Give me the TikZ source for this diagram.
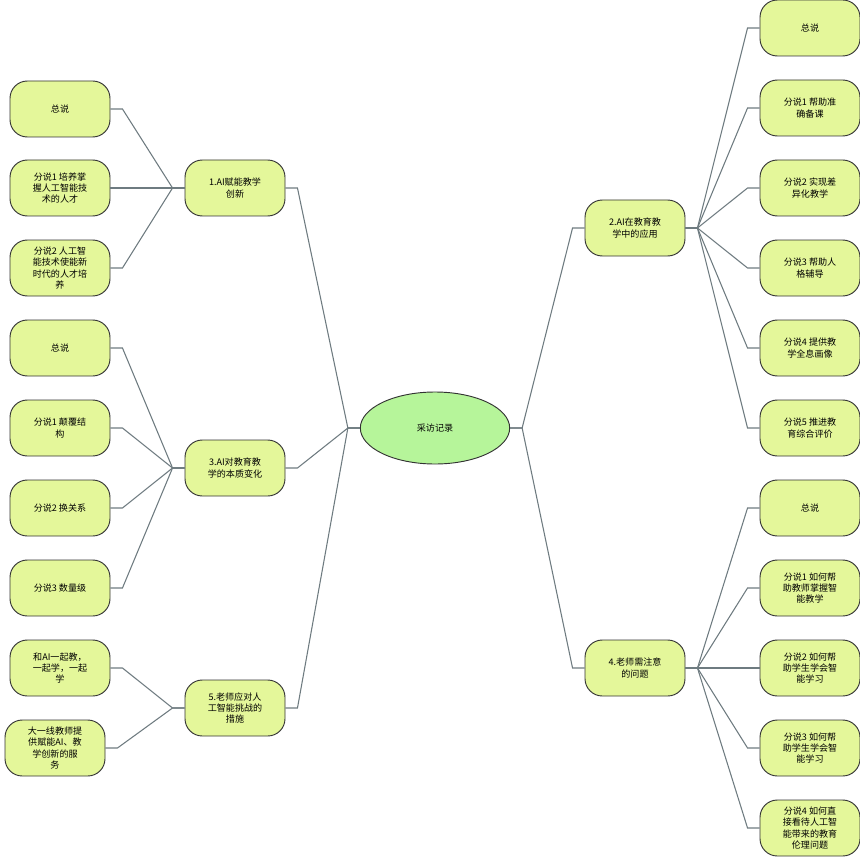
\documentclass[tikz,border=0pt]{standalone}
\usepackage{fontspec}
\setmainfont{Liberation Sans}
\newfontfamily\cjk{Noto Sans CJK SC}
\usetikzlibrary{shapes.geometric,calc}
\definecolor{leaf}{HTML}{E4F79A}
\definecolor{ctr}{HTML}{B6F59A}
\definecolor{ln}{HTML}{6E7B80}
\tikzset{
 box/.style={draw=black!80,line width=0.7pt,fill=leaf,rounded corners=13pt,minimum width=75pt,minimum height=42pt,align=center,font=\cjk\fontsize{6.8}{8.5}\selectfont},
 lk/.style={draw=ln,line width=0.8pt}
}
\newcommand{\lconn}[2]{\draw[lk] (#1.west) -- ++(-12,0) -- ($(#2.east)+(12,0)$) -- (#2.east);}
\newcommand{\rconn}[2]{\draw[lk] (#1.east) -- ++(12,0) -- ($(#2.west)+(-12,0)$) -- (#2.west);}
\begin{document}
\begin{tikzpicture}[x=0.75pt,y=-0.75pt]
\useasboundingbox (0,0) rectangle (859,859);
\node[ellipse,draw=black!80,line width=0.7pt,fill=ctr,minimum width=112pt,minimum height=54pt,font=\cjk\fontsize{6.8}{8.5}\selectfont] (c) at (435,428) {采访记录};
\node[box] (b1) at (235,188) {1.AI赋能教学\\创新};
\node[box] (b3) at (235,468) {3.AI对教育教\\学的本质变化};
\node[box] (b5) at (235,708) {5.老师应对人\\工智能挑战的\\措施};
\node[box] (b2) at (635,228) {2.AI在教育教\\学中的应用};
\node[box] (b4) at (635,668) {4.老师需注意\\的问题};
\node[box] (l11) at (60,109) {总说};
\node[box] (l12) at (60,188) {分说1 培养掌\\握人工智能技\\术的人才};
\node[box] (l13) at (60,268) {分说2 人工智\\能技术使能新\\时代的人才培\\养};
\node[box] (l31) at (60,348) {总说};
\node[box] (l32) at (60,428) {分说1 颠覆结\\构};
\node[box] (l33) at (60,508) {分说2 换关系};
\node[box] (l34) at (60,588) {分说3 数量级};
\node[box] (l51) at (60,668) {和AI一起教，\\一起学，一起\\学};
\node[box] (l52) at (55,748) {大一线教师提\\供赋能AI、教\\学创新的服\\务};
\node[box] (r21) at (810,28) {总说};
\node[box] (r22) at (810,108) {分说1 帮助准\\确备课};
\node[box] (r23) at (810,188) {分说2 实现差\\异化教学};
\node[box] (r24) at (810,268) {分说3 帮助人\\格辅导};
\node[box] (r25) at (810,348) {分说4 提供教\\学全息画像};
\node[box] (r26) at (810,428) {分说5 推进教\\育综合评价};
\node[box] (r41) at (810,508) {总说};
\node[box] (r42) at (810,588) {分说1 如何帮\\助教师掌握智\\能教学};
\node[box] (r43) at (810,668) {分说2 如何帮\\助学生学会智\\能学习};
\node[box] (r44) at (810,748) {分说3 如何帮\\助学生学会智\\能学习};
\node[box] (r45) at (810,828) {分说4 如何直\\接看待人工智\\能带来的教育\\伦理问题};
\lconn{c}{b1}\lconn{c}{b3}\lconn{c}{b5}
\rconn{c}{b2}\rconn{c}{b4}
\foreach \l in {l11,l12,l13}{\lconn{b1}{\l}}
\foreach \l in {l31,l32,l33,l34}{\lconn{b3}{\l}}
\foreach \l in {l51,l52}{\lconn{b5}{\l}}
\foreach \l in {r21,r22,r23,r24,r25,r26}{\rconn{b2}{\l}}
\foreach \l in {r41,r42,r43,r44,r45}{\rconn{b4}{\l}}
\end{tikzpicture}
\end{document}
